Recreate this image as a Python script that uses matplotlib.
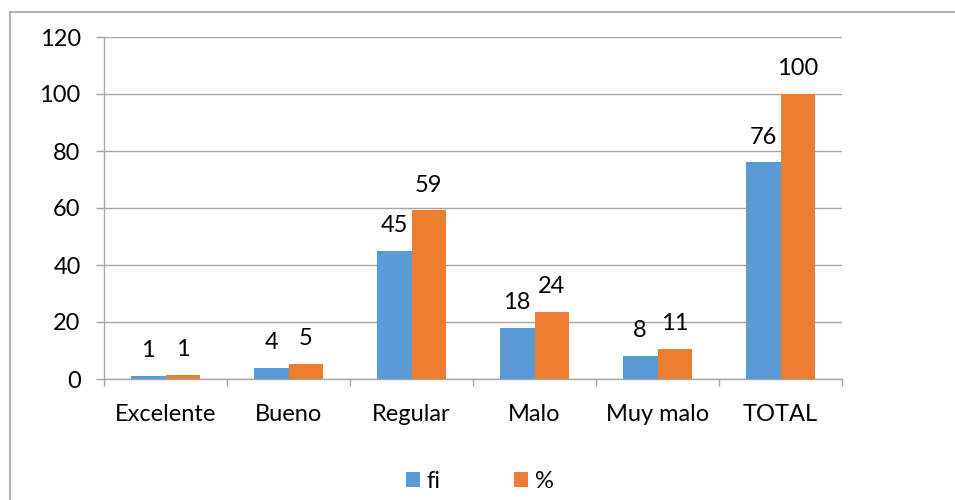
import matplotlib
matplotlib.use("Agg")
import matplotlib.pyplot as plt
from matplotlib.lines import Line2D
from matplotlib.patches import Patch
import numpy as np

categories = ["Excelente", "Bueno", "Regular", "Malo", "Muy malo", "TOTAL"]
fi_values = [1, 4, 45, 18, 8, 76]
pct_values = [1.32, 5.26, 59.21, 23.68, 10.53, 100.0]
series_names = ["fi", "%"]
yticks = [0, 20, 40, 60, 80, 100, 120]

BLUE = "#5B9BD5"
ORANGE = "#ED7D31"
GREY = "#A6A6A6"
FONT = "Lato"
FS = 17

W, H = 955, 500
fig = plt.figure(figsize=(W / 100, H / 100), dpi=100)
ax = fig.add_axes([104 / W, 121 / H, (842 - 104) / W, (379 - 37) / H])

x = np.arange(len(categories))
bw = 0.282
b1 = ax.bar(x - bw / 2, fi_values, bw, color=BLUE, zorder=3)
b2 = ax.bar(x + bw / 2, pct_values, bw, color=ORANGE, zorder=3)

for bars, vals in ((b1, fi_values), (b2, pct_values)):
    for rect, v in zip(bars, vals):
        ax.annotate(f"{v:.0f}", (rect.get_x() + rect.get_width() / 2, rect.get_height()),
                    xytext=(0, 13.5), textcoords="offset points",
                    ha="center", va="baseline", fontsize=FS, family=FONT, color="#000000")

ax.set_xlim(-0.5, len(categories) - 0.5)
ax.set_ylim(0, 120)
ax.set_yticks(yticks)
ax.set_yticklabels([str(t) for t in yticks], family=FONT, fontsize=FS)
ax.set_xticks(x)
ax.set_xticklabels(categories, family=FONT, fontsize=FS)
ax.set_xticks(np.arange(-0.5, len(categories), 1.0), minor=True)

ax.tick_params(axis="x", which="major", length=0, pad=18)
ax.tick_params(axis="x", which="minor", length=5.3, width=1, color=GREY, direction="out")
ax.tick_params(axis="y", which="major", length=5.8, width=1, color=GREY, direction="out", pad=11)

ax.grid(axis="y", color=GREY, linewidth=1, zorder=0)
for s in ("top", "right"):
    ax.spines[s].set_visible(False)
for s in ("left", "bottom"):
    ax.spines[s].set_color(GREY)
    ax.spines[s].set_linewidth(1)

handles = [Patch(facecolor=BLUE, edgecolor="none"), Patch(facecolor=ORANGE, edgecolor="none")]
fig.legend(handles, series_names, loc="center", bbox_to_anchor=(480 / W, 1 - 481 / H),
           ncol=2, frameon=False, prop={"family": FONT, "size": FS},
           handlelength=0.6, handleheight=0.6, handletextpad=0.3, columnspacing=3.1)

# chart area border (top and left visible)
fig.add_artist(Line2D([9.5 / W, 1.0], [1 - 11.5 / H, 1 - 11.5 / H], color=GREY, linewidth=1.2,
                      transform=fig.transFigure))
fig.add_artist(Line2D([9.5 / W, 9.5 / W], [0, 1 - 11.5 / H], color=GREY, linewidth=1.2,
                      transform=fig.transFigure))

fig.savefig("out.png", dpi=100)
